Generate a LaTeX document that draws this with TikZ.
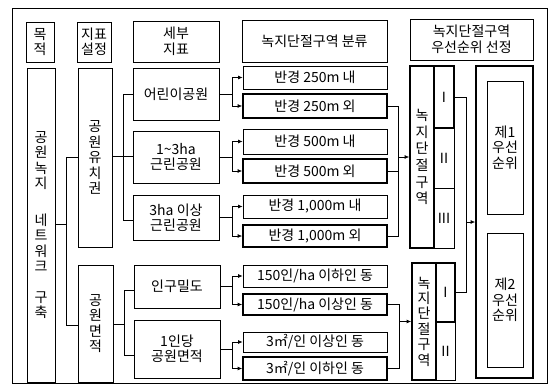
\documentclass[tikz,border=0pt]{standalone}
\usepackage{fontspec}
\setmainfont{Noto Sans CJK KR}
\usetikzlibrary{arrows.meta}
\newcommand{\fs}{\fontsize{14}{15.5}\selectfont}
\newcommand{\mkbox}[7]{\node[#1, minimum width={(#5-#3)*1pt}, minimum height={(#6-#4)*1pt}] (#2) at ({(#3+#5)/2},{(#4+#6)/2}) {#7};}
\begin{document}
\begin{tikzpicture}[x=1pt,y=-1pt,
  box/.style={draw, line width=0.8pt, inner sep=0pt, align=center, font=\fs},
  thickbox/.style={box, line width=1.7pt},
  framebox/.style={draw, line width=0.8pt, inner sep=0pt},
  conn/.style={line width=0.7pt},
  arr/.style={conn, -{Latex[length=4.5pt,width=4pt]}},
]
\useasboundingbox (0,0) rectangle (554,385);
\mkbox{framebox}{frame}{12}{8}{547}{383}{}
% headers
\mkbox{box}{h1}{26}{22}{54}{62}{목\\적}
\mkbox{box}{h2}{77}{22}{111}{62}{지표\\설정}
\mkbox{box}{h3}{133}{21}{219}{62}{세부\\지표}
\mkbox{box}{h4}{242}{20}{387}{62}{녹지단절구역 분류}
\mkbox{box}{h5}{410}{19}{533}{60}{녹지단절구역\\우선순위 선정}
% column 1, 2
\mkbox{box}{b1}{27}{68}{55}{382}{공\\원\\녹\\지\\[21pt]네\\트\\워\\크\\[15pt]구\\축}
\mkbox{box}{b2}{78}{68}{112}{247}{공\\원\\유\\치\\권}
\mkbox{box}{b3}{78}{265}{113}{382}{공\\원\\면\\적}
% column 3
\mkbox{box}{c1}{133}{68}{219}{120}{어린이공원}
\mkbox{box}{c2}{133}{131}{219}{183}{1\textasciitilde3ha\\근린공원}
\mkbox{box}{c3}{133}{195}{219}{240}{3ha 이상\\근린공원}
\mkbox{box}{c4}{134}{265}{220}{308}{인구밀도}
\mkbox{box}{c5}{134}{320}{220}{378}{1인당\\공원면적}
% column 4
\mkbox{box}{d1}{243}{66}{387}{89}{반경 250m 내}
\mkbox{thickbox}{d2}{243}{94}{387}{118}{반경 250m 외}
\mkbox{box}{d3}{243}{129}{387}{154}{반경 500m 내}
\mkbox{thickbox}{d4}{243}{159}{387}{183}{반경 500m 외}
\mkbox{box}{d5}{243}{195}{387}{218}{반경 1,000m 내}
\mkbox{thickbox}{d6}{243}{225}{387}{247}{반경 1,000m 외}
\mkbox{box}{d7}{243}{265}{387}{287}{150인/ha 이하인 동}
\mkbox{thickbox}{d8}{243}{294}{387}{315}{150인/ha 이상인 동}
\mkbox{box}{d9}{243}{332}{387}{352}{3㎡/인 이상인 동}
\mkbox{thickbox}{d10}{243}{357}{387}{380}{3㎡/인 이하인 동}
% column 5
\mkbox{thickbox, font=\fontsize{14}{16.6}\selectfont}{e1}{410}{66}{434}{248}{녹\\지\\단\\절\\구\\역}
\mkbox{thickbox}{e1a}{434}{66}{454}{128}{I}
\mkbox{box}{e1b}{434}{128}{454}{188}{II}
\mkbox{box}{e1c}{434}{188}{454}{248}{III}
\mkbox{thickbox, font=\fontsize{14}{15.4}\selectfont}{e2}{412}{263}{436}{380}{녹\\지\\단\\절\\구\\역}
\mkbox{thickbox}{e2a}{436}{263}{455}{322}{I}
\mkbox{box}{e2b}{436}{322}{455}{380}{II}
\mkbox{thickbox}{f}{476}{66}{533}{378}{}
\mkbox{box}{f1}{487}{81}{523}{214}{제1\\우선\\순위}
\mkbox{box}{f2}{487}{233}{523}{367}{제2\\우선\\순위}
% left connectors
\coordinate (jA) at (66,224);
\coordinate (jA1) at (66,157);
\coordinate (jA2) at (66,325);
\draw[conn] (b1.east |- jA) -- (jA);
\draw[conn] (b2.west |- jA1) -- (jA1) -- (jA2) -- (b3.west |- jA2);
\coordinate (jB) at (123,156);
\coordinate (jB1) at (123,94);
\coordinate (jB2) at (123,220);
\draw[conn] (b2.east |- jB) -- (c2.west |- jB);
\draw[conn] (c1.west |- jB1) -- (jB1) -- (jB2) -- (c3.west |- jB2);
\coordinate (jC) at (124,324);
\coordinate (jC1) at (124,290);
\coordinate (jC2) at (124,355);
\draw[conn] (b3.east |- jC) -- (jC);
\draw[conn] (c4.west |- jC1) -- (jC1) -- (jC2) -- (c5.west |- jC2);
% column 3 -> column 4
\coordinate (k) at (232,0);
\foreach \c/\a/\b in {c1/d1/d2, c2/d3/d4, c3/d5/d6, c4/d7/d8, c5/d9/d10}{
  \draw[conn] (\c.east) -- (\c.east -| k);
  \draw[arr] (\c.east -| k) |- (\a.west);
  \draw[arr] (\c.east -| k) |- (\b.west);
}
% column 4 -> column 5
\coordinate (m1) at (398,0);
\draw[conn] (d2.east) -- (d2.east -| m1) -- (d6.east -| m1) -- (d6.east);
\draw[conn] (d4.east) -- (d4.east -| m1);
\draw[arr] (e1.west -| m1) -- (e1.west);
\coordinate (m2) at (399,0);
\draw[conn] (d8.east) -- (d8.east -| m2) -- (d10.east -| m2) -- (d10.east);
\draw[arr] (e2.west -| m2) -- (e2.west);
% I boxes -> priority
\coordinate (n) at (466,0);
\draw[conn] (e1a.east) -- (e1a.east -| n) -- (e2a.east -| n) -- (e2a.east);
\draw[arr] (f.west -| n) -- (f.west);
\end{tikzpicture}
\end{document}
